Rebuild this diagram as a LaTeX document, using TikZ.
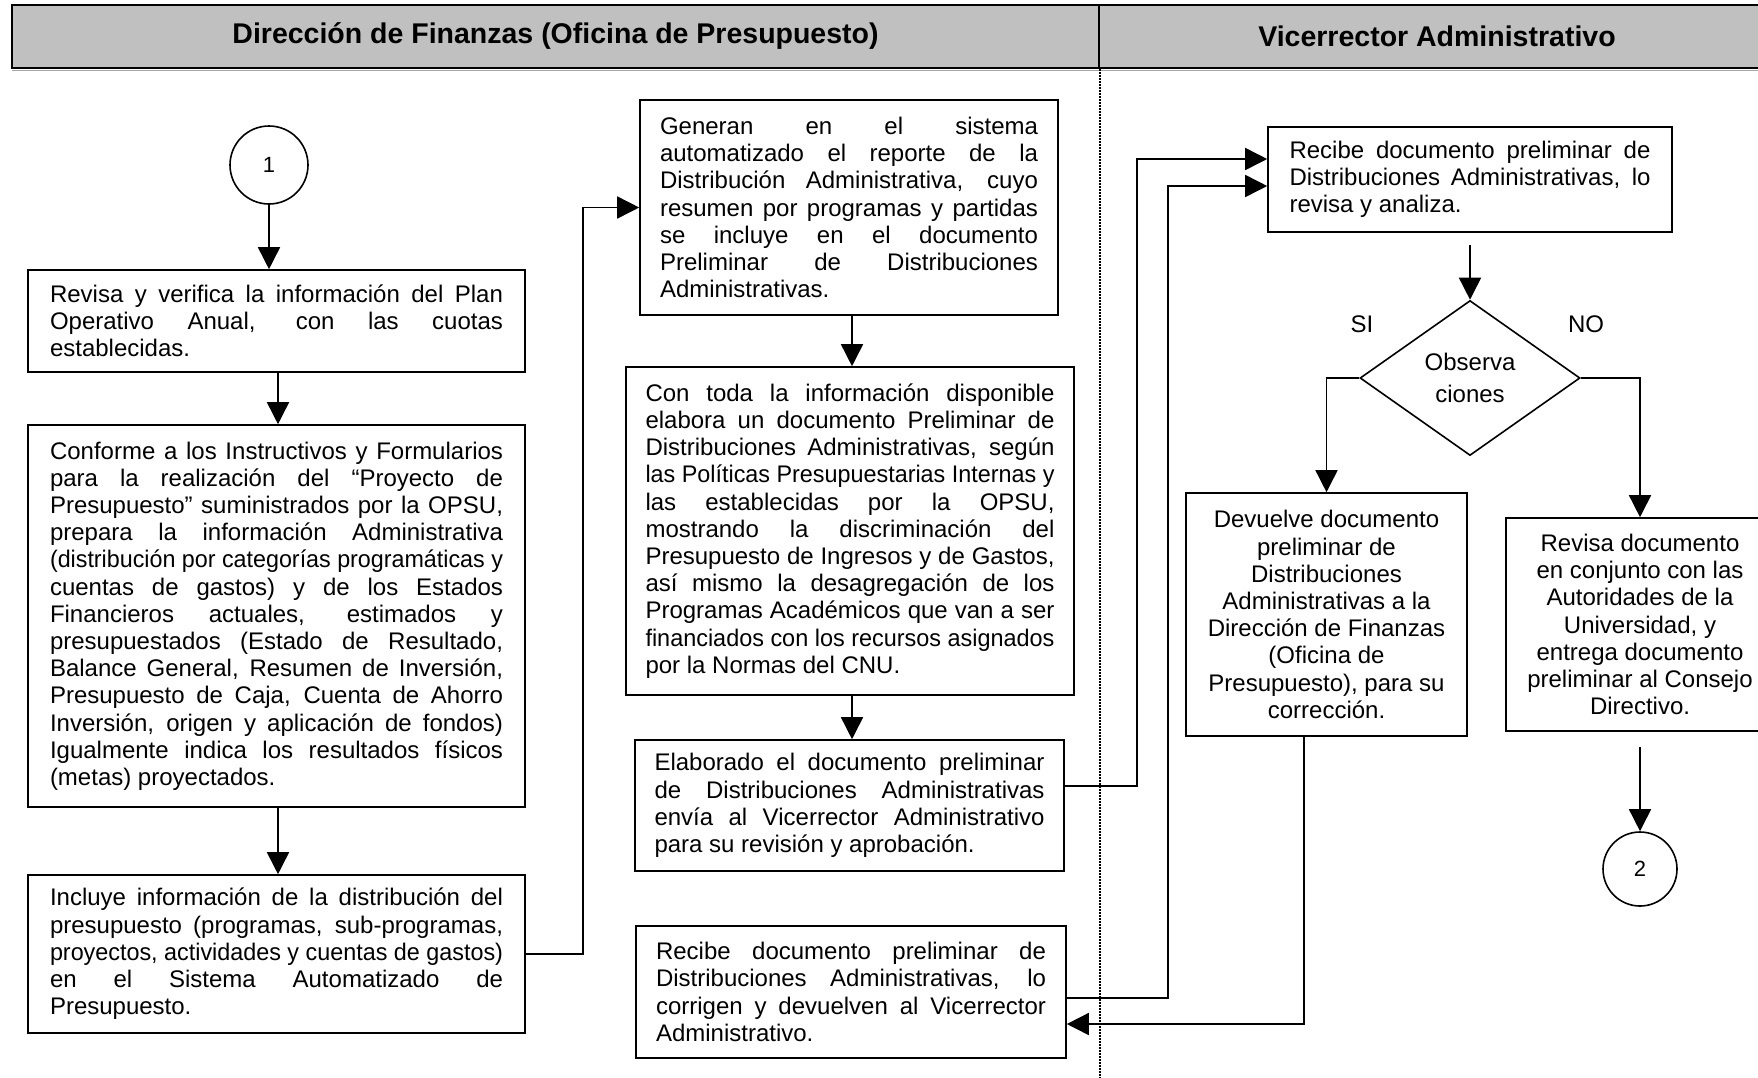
\documentclass[tikz,border=0pt]{standalone}
\usepackage{fontspec}
\setmainfont{Liberation Sans}
\usepackage{graphicx}
\usetikzlibrary{arrows.meta,shapes.geometric}

\definecolor{hdrgray}{RGB}{192,192,192}

% one justified line; lines wider than the column are condensed to fit
\newsavebox\lnbox
\newcommand\jl[1]{\sbox\lnbox{#1}%
  \ifdim\wd\lnbox>\linewidth
    \resizebox{\linewidth}{\height}{\usebox\lnbox}%
  \else
    \makebox[\linewidth][s]{#1}%
  \fi\par}
\newcommand\lastln[1]{#1\par}
\newcommand\txt[2]{\parbox{#1}{\parindent=0pt\fontsize{24}{27.2}\selectfont #2}}

\begin{document}
\begin{tikzpicture}[x=1pt,y=-1pt,
  stepbox/.style={draw, line width=1.6pt, rectangle, inner sep=0pt},
  cbox/.style={stepbox, align=center, font=\fontsize{24}{27.2}\selectfont},
  conn/.style={draw, circle, line width=1.6pt, inner sep=0pt, font=\fontsize{22}{24}\selectfont},
  decision/.style={draw, diamond, line width=1.6pt, inner sep=0pt, align=center,
    font=\fontsize{24}{32}\selectfont},
  hdr/.style={draw, fill=hdrgray, line width=2.2pt, rectangle, inner sep=0pt,
    minimum height=63pt, font=\fontsize{28.5}{30}\selectfont\bfseries},
  arr/.style={line width=1.6pt, -{Triangle[length=22pt,width=22pt]}},
  lanediv/.style={line width=1.5pt, dash pattern=on 1.5pt off 1.5pt},
  lbl/.style={inner sep=0pt, font=\fontsize{24}{26}\selectfont}]

\useasboundingbox (0,0) rectangle (1758,1077);

% lane headers
\draw[line width=1.2pt, gray!70] (12,70.5) -- (1775,70.5);
\node[hdr, minimum width=1087pt] (hL) at (555.5,36.5) {\raisebox{-3pt}{Dirección de Finanzas (Oficina de Presupuesto)}};
\node[hdr, minimum width=676pt] (hR) at (1437,36.5) {\raisebox{-2pt}{Vicerrector Administrativo}};
\draw[lanediv] (hL.south east) -- ++(0,1010);

% Dirección de Finanzas lane, left column
\node[conn, minimum size=78pt] (c1) at (269,165) {1};

\node[stepbox, minimum width=497pt, minimum height=102pt] (A) at (276.5,321) {\txt{453pt}{%
\jl{Revisa y verifica la información del Plan}
\jl{Operativo Anual, con las cuotas}
\lastln{establecidas.}}};

\node[stepbox, minimum width=497pt, minimum height=382pt] (B) at (276.5,616) {\txt{453pt}{%
\jl{Conforme a los Instructivos y Formularios}
\jl{para la realización del “Proyecto de}
\jl{Presupuesto” suministrados por la OPSU,}
\jl{prepara la información Administrativa}
\jl{(distribución por categorías programáticas y}
\jl{cuentas de gastos) y de los Estados}
\jl{Financieros actuales, estimados y}
\jl{presupuestados (Estado de Resultado,}
\jl{Balance General, Resumen de Inversión,}
\jl{Presupuesto de Caja, Cuenta de Ahorro}
\jl{Inversión, origen y aplicación de fondos)}
\jl{Igualmente indica los resultados físicos}
\lastln{(metas) proyectados.}}};

\node[stepbox, minimum width=497pt, minimum height=158pt] (C) at (276.5,954) {\txt{453pt}{%
\jl{Incluye información de la distribución del}
\jl{presupuesto (programas, sub-programas,}
\jl{proyectos, actividades y cuentas de gastos)}
\jl{en el Sistema Automatizado de}
\lastln{Presupuesto.}}};

% Dirección de Finanzas lane, right column
\node[stepbox, minimum width=418pt, minimum height=215pt] (D) at (849,207.5) {\txt{378pt}{%
\jl{Generan en el sistema}
\jl{automatizado el reporte de la}
\jl{Distribución Administrativa, cuyo}
\jl{resumen por programas y partidas}
\jl{se incluye en el documento}
\jl{Preliminar de Distribuciones}
\lastln{Administrativas.}}};

\node[stepbox, minimum width=448pt, minimum height=328pt] (E) at (850,531) {\txt{409pt}{%
\jl{Con toda la información disponible}
\jl{elabora un documento Preliminar de}
\jl{Distribuciones Administrativas, según}
\jl{las Políticas Presupuestarias Internas y}
\jl{las establecidas por la OPSU,}
\jl{mostrando la discriminación del}
\jl{Presupuesto de Ingresos y de Gastos,}
\jl{así mismo la desagregación de los}
\jl{Programas Académicos que van a ser}
\jl{financiados con los recursos asignados}
\lastln{por la Normas del CNU.}}};

\node[stepbox, minimum width=429pt, minimum height=131pt] (F) at (849.5,805.5) {\txt{390pt}{%
\jl{Elaborado el documento preliminar}
\jl{de Distribuciones Administrativas}
\jl{envía al Vicerrector Administrativo}
\lastln{para su revisión y aprobación.}}};

\node[stepbox, minimum width=430pt, minimum height=132pt] (G) at (851,992) {\txt{390pt}{%
\jl{Recibe documento preliminar de}
\jl{Distribuciones Administrativas, lo}
\jl{corrigen y devuelven al Vicerrector}
\lastln{Administrativo.}}};

% Vicerrector Administrativo lane
\node[stepbox, minimum width=404pt, minimum height=105pt] (H) at (1470,179.5) {\txt{361pt}{%
\jl{Recibe documento preliminar de}
\jl{Distribuciones Administrativas, lo}
\lastln{revisa y analiza.}}};

\node[decision, minimum width=220pt, minimum height=155pt] (Dm) at (1470,378) {Observa\\ciones};
\node[lbl] (si) at (1362,324) {SI};
\node[lbl] (no) at (1586,324) {NO};

\node[cbox, minimum width=281pt, minimum height=243pt] (I) at (1326.5,614.5) {Devuelve documento\\preliminar de\\Distribuciones\\Administrativas a la\\Dirección de Finanzas\\(Oficina de\\Presupuesto), para su\\corrección.};

\node[cbox, minimum width=268pt, minimum height=213pt] (J) at (1640,624.5) {Revisa documento\\en conjunto con las\\Autoridades de la\\Universidad, y\\entrega documento\\preliminar al Consejo\\Directivo.};

\node[conn, minimum size=74pt] (c2) at (1640,869) {2};

% flow
\draw[arr] (c1.south) -- (c1.south |- A.north);
\draw[arr] ([xshift=1.5pt]A.south) -- ([xshift=1.5pt]B.north);
\draw[arr] ([xshift=1.5pt]B.south) -- ([xshift=1.5pt]C.north);
\draw[arr] (C.east) -- ++(57,0) |- (D.west);
\draw[arr] ([xshift=3pt]D.south) -- ([xshift=3pt]D.south |- E.north);
\draw[arr] ([xshift=2pt]E.south) -- ([xshift=2pt]E.south |- F.north);
\draw[arr] ([yshift=19.5pt]F.east) -- ++(72,0) |- ([yshift=20.5pt]H.west);
\draw[arr] ([yshift=-6pt]G.east) -- ++(101,0) |- ([yshift=-6.5pt]H.west);
\draw[arr] ([yshift=-12pt]H.south) -- (Dm.north);
\draw[arr] (Dm.west) -| (I.north);
\draw[arr] (Dm.east) -| (J.north);
\draw[arr] ([yshift=-15pt]J.south) -- (c2.north);
\draw[arr] ([xshift=-22.5pt]I.south) |- ([yshift=-32pt]G.east);

\end{tikzpicture}
\end{document}
